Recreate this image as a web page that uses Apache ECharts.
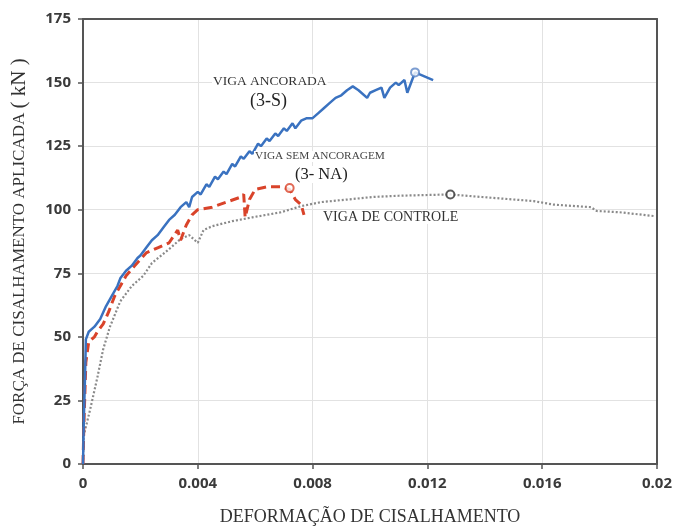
<!DOCTYPE html>
<html>
<head>
<meta charset="utf-8">
<script src="https://cdn.jsdelivr.net/npm/echarts@6/dist/echarts.min.js"></script>
<style>
  html, body { margin: 0; padding: 0; background: #fff; }
  #chart { width: 678px; height: 531px; }
</style>
</head>
<body>
<div id="chart"></div>
<script>
// tick labels
var xTicks = [0, 0.004, 0.008, 0.012, 0.016, 0.02];
var yTicks = [0, 25, 50, 75, 100, 125, 150, 175];

// VIGA ANCORADA (3-S)
var ancorada = [
  [0, 0], [0.00003, 18], [0.00007, 34], [0.0001, 49], [0.0002, 52], [0.0004, 54],
  [0.0006, 57], [0.0008, 62], [0.001, 66], [0.0012, 70], [0.0013, 73], [0.0015, 76],
  [0.0017, 78], [0.0019, 81], [0.002, 82], [0.0022, 85], [0.0024, 88], [0.0026, 90],
  [0.0028, 93], [0.003, 96], [0.0032, 98], [0.0034, 101], [0.0036, 103], [0.0037, 101],
  [0.0038, 105], [0.004, 107], [0.0041, 106], [0.0043, 110], [0.0044, 109], [0.0046, 113],
  [0.0047, 112], [0.0049, 115], [0.005, 114], [0.0052, 118], [0.0053, 117], [0.0055, 121],
  [0.0056, 120], [0.0058, 123], [0.0059, 122], [0.0061, 126], [0.0062, 125], [0.0064, 128],
  [0.0065, 127], [0.0067, 130], [0.0068, 129], [0.007, 132], [0.0071, 131], [0.0073, 134],
  [0.0074, 132], [0.0076, 135], [0.0078, 136], [0.008, 136], [0.0082, 138], [0.0084, 140],
  [0.0086, 142], [0.0088, 144], [0.009, 145], [0.0092, 147], [0.0094, 148.5], [0.0096, 147],
  [0.0099, 144], [0.01, 146], [0.0102, 147], [0.0104, 148], [0.0105, 144], [0.0107, 148],
  [0.0109, 150], [0.011, 149], [0.0112, 151], [0.0113, 146], [0.0115, 152], [0.01157, 154],
  [0.0122, 151]
];
var ancoradaEnd = [[0.01157, 154]];

// VIGA SEM ANCORAGEM (3- NA)
var semAncoragem = [
  [0, 0], [0.00003, 15], [0.0001, 40], [0.0002, 48], [0.0004, 50], [0.0005, 52],
  [0.0007, 55], [0.0009, 60], [0.0011, 66], [0.0013, 70], [0.0015, 74], [0.0018, 78],
  [0.0022, 83], [0.0026, 85], [0.003, 87], [0.0033, 92], [0.0034, 88], [0.0036, 94],
  [0.0038, 98], [0.004, 100], [0.0045, 101], [0.005, 103], [0.0055, 105], [0.0056, 106],
  [0.00565, 97], [0.0058, 104], [0.006, 108], [0.0064, 109], [0.0069, 109], [0.0072, 108],
  [0.0074, 104], [0.0076, 102], [0.0077, 98]
];
var semAncoragemEnd = [[0.0072, 108.5]];

// VIGA DE CONTROLE
var controle = [
  [0, 0], [0.00002, 11], [0.00024, 21], [0.0005, 34], [0.0007, 45], [0.00094, 54],
  [0.0013, 64], [0.0017, 70], [0.0021, 74], [0.0024, 79], [0.003, 84.5], [0.0034, 88.5],
  [0.0037, 90], [0.0039, 88], [0.004, 87], [0.0042, 92], [0.0045, 93.5], [0.0052, 95.5],
  [0.0059, 97], [0.0069, 99], [0.0076, 101.4], [0.0083, 103], [0.0092, 104], [0.0101, 105],
  [0.011, 105.5], [0.0128, 106], [0.0139, 105], [0.0157, 103.4], [0.0164, 102], [0.0177, 101],
  [0.0179, 99.5], [0.0187, 99], [0.0199, 97.5]
];
var controleEnd = [[0.0128, 106]];

var chart = echarts.init(document.getElementById('chart'));
var serif = '"Liberation Serif", "DejaVu Serif", serif';
var tickFont = { fontFamily: '"Open Sans", "Liberation Sans", sans-serif', fontSize: 15, color: '#3a3a3a', fontWeight: 'bold' };

function label(x, y, text, size, color) {
  return {
    type: 'text', left: x, top: y, z: 10,
    style: { text: text, font: size + 'px ' + serif, fill: color, backgroundColor: '#fff', padding: [0, 1] }
  };
}

chart.setOption({
  animation: false,
  grid: { left: 83, right: 21, top: 19, bottom: 65 },
  xAxis: [{
    type: 'value', min: 0, max: 0.02, interval: 0.004,
    name: 'DEFORMAÇÃO DE CISALHAMENTO', nameLocation: 'middle', nameGap: 44,
    nameTextStyle: { fontFamily: serif, fontSize: 18, color: '#333' },
    axisLine: { lineStyle: { color: '#555', width: 2 } },
    axisTick: { show: true, length: 5, lineStyle: { color: '#555', width: 1.5 } },
    axisLabel: Object.assign({ margin: 12, formatter: function (v) {
      return xTicks.indexOf(v) >= 0 ? String(v) : '';
    } }, tickFont),
    splitLine: { show: true, lineStyle: { color: '#e2e2e2' } }
  }, {
    type: 'value', min: 0, max: 0.02, position: 'top',
    axisLine: { show: true, onZero: false, lineStyle: { color: '#555', width: 2 } },
    axisTick: { show: false }, axisLabel: { show: false }, splitLine: { show: false }
  }],
  yAxis: [{
    type: 'value', min: 0, max: 175, interval: 25,
    name: 'FORÇA DE CISALHAMENTO APLICADA {k|( kN )}', nameLocation: 'middle', nameGap: 53,
    nameTextStyle: {
      fontFamily: serif, fontSize: 17, color: '#333',
      rich: { k: { fontFamily: serif, fontSize: 21, color: '#333' } }
    },
    axisLine: { show: true, lineStyle: { color: '#555', width: 2 } },
    axisTick: { show: true, length: 5, lineStyle: { color: '#555', width: 1.5 } },
    axisLabel: Object.assign({ margin: 12, formatter: function (v) {
      return yTicks.indexOf(v) >= 0 ? String(v) : '';
    } }, tickFont),
    splitLine: { show: true, lineStyle: { color: '#e2e2e2' } }
  }, {
    type: 'value', min: 0, max: 175, position: 'right',
    axisLine: { show: true, onZero: false, lineStyle: { color: '#555', width: 2 } },
    axisTick: { show: false }, axisLabel: { show: false }, splitLine: { show: false }
  }],
  series: [
    {
      name: 'VIGA DE CONTROLE', type: 'line', data: controle, showSymbol: false,
      lineStyle: { color: '#8a8a8a', width: 2.2, type: [2, 2] }, z: 2
    },
    {
      name: 'VIGA SEM ANCORAGEM', type: 'line', data: semAncoragem, showSymbol: false,
      lineStyle: { color: '#d9432a', width: 3, type: [9, 5] }, z: 3
    },
    {
      name: 'VIGA ANCORADA', type: 'line', data: ancorada, showSymbol: false,
      lineStyle: { color: '#3a72c0', width: 2.5 }, z: 4
    },
    {
      type: 'scatter', data: ancoradaEnd, symbol: 'emptyCircle', symbolSize: 8,
      itemStyle: { color: '#5b84c6', borderWidth: 1.5 }, z: 5
    },
    {
      type: 'scatter', data: semAncoragemEnd, symbol: 'emptyCircle', symbolSize: 8,
      itemStyle: { color: '#d9432a', borderWidth: 1.5 }, z: 5
    },
    {
      type: 'scatter', data: controleEnd, symbol: 'emptyCircle', symbolSize: 8,
      itemStyle: { color: '#333', borderWidth: 2 }, z: 5
    }
  ],
  graphic: [
    label(212, 74, 'VIGA ANCORADA', 13.5, '#333'),
    label(249, 92, '(3-S)', 18, '#222'),
    label(254, 151, 'VIGA SEM ANCORAGEM', 11.3, '#444'),
    label(294, 166, '(3- NA)', 16.5, '#222'),
    label(322, 210, 'VIGA DE CONTROLE', 14, '#333')
  ]
});
</script>
</body>
</html>
